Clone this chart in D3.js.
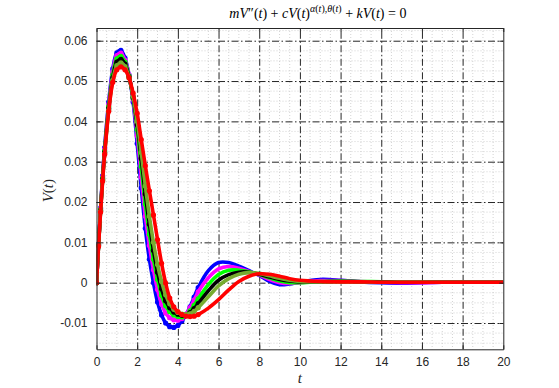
<!DOCTYPE html>
<html>
<head>
<meta charset="utf-8">
<script src="https://cdn.jsdelivr.net/npm/d3@7"></script>
<style>
  body { margin: 0; background: #fff; }
  svg { display: block; }
</style>
</head>
<body>
<div id="chart"></div>
<script>
// time samples (t)
const T = [0, 0.1, 0.2, 0.3, 0.4, 0.6, 0.8, 1.0, 1.2, 1.4, 1.6, 1.8, 2.0, 2.2, 2.4, 2.6, 2.8, 3.0,
  3.2, 3.4, 3.6, 3.8, 4.0, 4.2, 4.4, 4.6, 4.8, 5.0, 5.5, 6.0, 6.5, 7.0, 7.5, 8.0, 8.5, 9.0, 9.5,
  10, 11, 12, 13, 14, 15, 16, 17, 18, 19, 20];

// V(t) for each curve
const blueV = [0, 0.0095, 0.0185, 0.0265, 0.0335, 0.0448, 0.0530, 0.0570, 0.0576, 0.0557, 0.0515, 0.0448,
  0.0345, 0.0235, 0.0135, 0.0058, 0.0000, -0.0048, -0.0080, -0.0100, -0.0109, -0.0111, -0.0106, -0.0095,
  -0.0080, -0.0060, -0.0036, -0.0012, 0.0030, 0.0050, 0.0050, 0.0041, 0.0030, 0.0018, 0.0003, -0.0005,
  -0.0003, 0.0002, 0.0008, 0.0006, 0.0002, 0.0000, -0.0001, 0.0000, 0.0001, 0.0001, 0.0001, 0.0001];
const magentaV = [0, 0.0094, 0.0183, 0.0262, 0.0331, 0.0442, 0.0522, 0.0563, 0.0569, 0.0552, 0.0515, 0.0455,
  0.0365, 0.0262, 0.0165, 0.0092, 0.0032, -0.0017, -0.0053, -0.0075, -0.0087, -0.0092, -0.0093, -0.0089,
  -0.0078, -0.0062, -0.0043, -0.0023, 0.0012, 0.0034, 0.0040, 0.0036, 0.0028, 0.0019, 0.0008, 0.0000,
  -0.0002, 0.0000, 0.0005, 0.0005, 0.0003, 0.0001, 0.0000, 0.0000, 0.0001, 0.0001, 0.0001, 0.0001];
const greenV = [0, 0.0093, 0.0181, 0.0259, 0.0327, 0.0437, 0.0515, 0.0555, 0.0561, 0.0547, 0.0512, 0.0458,
  0.0380, 0.0288, 0.0195, 0.0120, 0.0058, 0.0008, -0.0031, -0.0057, -0.0072, -0.0080, -0.0084, -0.0085,
  -0.0080, -0.0070, -0.0056, -0.0040, -0.0005, 0.0020, 0.0031, 0.0031, 0.0027, 0.0020, 0.0012, 0.0004,
  0.0000, 0.0000, 0.0003, 0.0004, 0.0003, 0.0002, 0.0001, 0.0001, 0.0001, 0.0001, 0.0001, 0.0001];
const blackV = [0, 0.0092, 0.0179, 0.0256, 0.0323, 0.0432, 0.0508, 0.0547, 0.0554, 0.0542, 0.0510, 0.0460,
  0.0392, 0.0308, 0.0220, 0.0145, 0.0080, 0.0026, -0.0015, -0.0045, -0.0062, -0.0073, -0.0078, -0.0081,
  -0.0080, -0.0074, -0.0064, -0.0052, -0.0020, 0.0006, 0.0020, 0.0026, 0.0026, 0.0021, 0.0014, 0.0008,
  0.0004, 0.0002, 0.0002, 0.0003, 0.0002, 0.0002, 0.0001, 0.0001, 0.0001, 0.0001, 0.0001, 0.0001];
const oliveV = [0, 0.0091, 0.0177, 0.0254, 0.0320, 0.0428, 0.0502, 0.0538, 0.0545, 0.0536, 0.0508, 0.0462,
  0.0400, 0.0323, 0.0240, 0.0165, 0.0100, 0.0045, 0.0003, -0.0030, -0.0052, -0.0066, -0.0074, -0.0078,
  -0.0079, -0.0077, -0.0071, -0.0062, -0.0035, -0.0008, 0.0010, 0.0021, 0.0025, 0.0023, 0.0017, 0.0011,
  0.0006, 0.0003, 0.0002, 0.0002, 0.0002, 0.0001, 0.0001, 0.0001, 0.0001, 0.0001, 0.0001, 0.0001];
const redV = [0, 0.0090, 0.0175, 0.0252, 0.0318, 0.0425, 0.0497, 0.0528, 0.0535, 0.0528, 0.0508, 0.0470,
  0.0420, 0.0355, 0.0290, 0.0228, 0.0168, 0.0107, 0.0048, -0.0001, -0.0038, -0.0060, -0.0072, -0.0079,
  -0.0083, -0.0084, -0.0083, -0.0079, -0.0063, -0.0042, -0.0018, 0.0003, 0.0016, 0.0022, 0.0021, 0.0016,
  0.0010, 0.0006, 0.0003, 0.0002, 0.0002, 0.0001, 0.0001, 0.0001, 0.0001, 0.0001, 0.0001, 0.0001];

const xTicks = [0, 2, 4, 6, 8, 10, 12, 14, 16, 18, 20];
const yTicks = [-0.01, 0, 0.01, 0.02, 0.03, 0.04, 0.05, 0.06];
const yTickLabels = ["-0.01", "0", "0.01", "0.02", "0.03", "0.04", "0.05", "0.06"];

const series = [
  { color: "#0000ff", values: blueV },
  { color: "#ff00ff", values: magentaV },
  { color: "#00ff00", values: greenV },
  { color: "#000000", values: blackV },
  { color: "#77ac30", values: oliveV },
  { color: "#ff0000", values: redV }
];

const W = 559, H = 388;
const plot = { left: 96.5, right: 503.3, top: 28, bottom: 349.3 };

const svg = d3.select("#chart").append("svg")
  .attr("width", W)
  .attr("height", H);

const x = d3.scaleLinear().domain([0, 20]).range([plot.left, plot.right]);
const y = d3.scaleLinear().domain([-0.01652, 0.06315]).range([plot.bottom, plot.top]);

svg.append("rect")
  .attr("x", plot.left).attr("y", plot.top)
  .attr("width", plot.right - plot.left).attr("height", plot.bottom - plot.top)
  .attr("fill", "#fff");

// minor grid (dotted)
const minor = svg.append("g").attr("stroke", "#c8c8c8").attr("stroke-width", 0.8)
  .attr("stroke-dasharray", "1,2");
minor.selectAll(".mx").data(d3.range(0.5, 20, 0.5).filter(v => v % 2 !== 0))
  .join("line")
  .attr("x1", d => x(d)).attr("x2", d => x(d))
  .attr("y1", plot.top).attr("y2", plot.bottom);
minor.selectAll(".my").data(d3.range(-0.015, 0.0631, 0.0025).filter(v => Math.abs(Math.round(v * 100) - v * 100) > 1e-6))
  .join("line")
  .attr("x1", plot.left).attr("x2", plot.right)
  .attr("y1", d => y(d)).attr("y2", d => y(d));

// major grid (dash-dot)
svg.append("g")
  .attr("transform", "translate(0," + plot.bottom + ")")
  .call(d3.axisBottom(x).tickValues(xTicks.slice(1, -1)).tickSize(-(plot.bottom - plot.top)).tickFormat(""))
  .call(g => g.select(".domain").remove())
  .call(g => g.selectAll("line").attr("stroke", "#262626").attr("stroke-width", 1)
    .attr("stroke-dasharray", "7,2.5,1.5,2.5"));
svg.append("g")
  .attr("transform", "translate(" + plot.left + ",0)")
  .call(d3.axisLeft(y).tickValues(yTicks).tickSize(-(plot.right - plot.left)).tickFormat(""))
  .call(g => g.select(".domain").remove())
  .call(g => g.selectAll("line").attr("stroke", "#262626").attr("stroke-width", 1)
    .attr("stroke-dasharray", "7,2.5,1.5,2.5"));

// curves
svg.append("clipPath").attr("id", "clip")
  .append("rect")
  .attr("x", plot.left).attr("y", plot.top)
  .attr("width", plot.right - plot.left).attr("height", plot.bottom - plot.top);

const line = d3.line()
  .x(d => x(d[0]))
  .y(d => y(d[1]))
  .curve(d3.curveCatmullRom.alpha(0.5));

const curves = svg.append("g").attr("clip-path", "url(#clip)");
series.forEach(s => {
  const pts = T.map((t, i) => [t, s.values[i]]);
  curves.append("path")
    .datum(pts)
    .attr("d", line)
    .attr("fill", "none")
    .attr("stroke", s.color)
    .attr("stroke-width", 3.6)
    .attr("stroke-linejoin", "round");
  curves.selectAll(null)
    .data(pts.filter(d => d[0] <= 5))
    .join("circle")
    .attr("cx", d => x(d[0]))
    .attr("cy", d => y(d[1]))
    .attr("r", 2.6)
    .attr("fill", s.color);
});

// axes box with inward ticks
const axisColor = "#262626";
const xAxis = svg.append("g")
  .attr("transform", "translate(0," + plot.bottom + ")")
  .call(d3.axisBottom(x).tickValues(xTicks).tickSizeInner(-4).tickSizeOuter(0).tickPadding(8));
xAxis.selectAll("text").attr("font-size", 12).attr("font-family", "Liberation Sans, Arial, sans-serif").attr("fill", axisColor);
xAxis.selectAll("line, path").attr("stroke", axisColor);

const yAxis = svg.append("g")
  .attr("transform", "translate(" + plot.left + ",0)")
  .call(d3.axisLeft(y).tickValues(yTicks).tickFormat((d, i) => yTickLabels[i])
    .tickSizeInner(-4).tickSizeOuter(0).tickPadding(9));
yAxis.selectAll("text").attr("font-size", 12).attr("font-family", "Liberation Sans, Arial, sans-serif").attr("fill", axisColor);
yAxis.selectAll("line, path").attr("stroke", axisColor);

svg.append("g")
  .attr("transform", "translate(0," + plot.top + ")")
  .call(d3.axisTop(x).tickValues(xTicks).tickSizeInner(-4).tickSizeOuter(0).tickFormat(""))
  .call(g => g.selectAll("line, path").attr("stroke", axisColor));
svg.append("g")
  .attr("transform", "translate(" + plot.right + ",0)")
  .call(d3.axisRight(y).tickValues(yTicks).tickSizeInner(-4).tickSizeOuter(0).tickFormat(""))
  .call(g => g.selectAll("line, path").attr("stroke", axisColor));

// labels
const serif = "Liberation Serif, Times New Roman, serif";

svg.append("text")
  .attr("x", (plot.left + plot.right) / 2)
  .attr("y", 383)
  .attr("text-anchor", "middle")
  .attr("font-family", serif)
  .attr("font-size", 15)
  .attr("font-style", "italic")
  .attr("fill", axisColor)
  .text("t");

const yl = svg.append("text")
  .attr("transform", "translate(53," + ((plot.top + plot.bottom) / 2 + 2) + ") rotate(-90)")
  .attr("text-anchor", "middle")
  .attr("font-family", serif)
  .attr("font-size", 15)
  .attr("fill", axisColor);
yl.append("tspan").attr("font-style", "italic").text("V");
yl.append("tspan").text("(");
yl.append("tspan").attr("font-style", "italic").text("t");
yl.append("tspan").text(")");

// title
const title = svg.append("text")
  .attr("x", (plot.left + plot.right) / 2 + 18)
  .attr("y", 18)
  .attr("text-anchor", "middle")
  .attr("font-family", serif)
  .attr("font-size", 14)
  .attr("fill", "#000");
const it = s => title.append("tspan").attr("font-style", "italic").text(s);
const rm = s => title.append("tspan").text(s);
it("m"); it("V"); rm("\u2033("); it("t"); rm(") + "); it("c"); it("V"); rm("("); it("t"); rm(")");
title.append("tspan").attr("dy", -6).attr("font-size", 10).attr("font-style", "italic").text("\u03b1");
title.append("tspan").attr("font-size", 10).text("(");
title.append("tspan").attr("font-size", 10).attr("font-style", "italic").text("t");
title.append("tspan").attr("font-size", 10).text("),");
title.append("tspan").attr("font-size", 10).attr("font-style", "italic").text("\u03b8");
title.append("tspan").attr("font-size", 10).text("(");
title.append("tspan").attr("font-size", 10).attr("font-style", "italic").text("t");
title.append("tspan").attr("font-size", 10).text(")");
title.append("tspan").attr("dy", 6).text(" + ");
it("kV"); rm("("); it("t"); rm(") = 0");
</script>
</body>
</html>
